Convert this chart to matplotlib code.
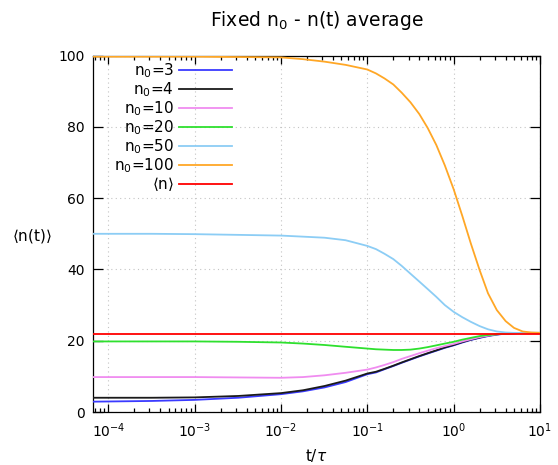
import numpy as np
import matplotlib
matplotlib.use("Agg")
import matplotlib.pyplot as plt
from matplotlib.ticker import LogLocator, FixedLocator, NullFormatter

# time grid t/tau
t = [6.6e-5, 3.2e-4, 1e-3, 3.2e-3, 1e-2, 0.018, 0.032, 0.056, 0.1, 0.126,
     0.158, 0.2, 0.25, 0.316, 0.4, 0.5, 0.63, 0.79, 1.0, 1.26, 1.58, 2.0,
     2.5, 3.16, 4.0, 5.0, 6.3, 7.9, 10.0]

n3 = [2.9, 3.1, 3.4, 4.0, 5.0, 5.8, 6.9, 8.4, 10.6, 11.1, 12.0, 12.9, 13.8,
      14.7, 15.6, 16.4, 17.2, 18.0, 18.7, 19.5, 20.2, 20.8, 21.3, 21.7,
      22.0, 22.1, 22.2, 22.2, 22.2]
n4 = [4.0, 4.0, 4.1, 4.5, 5.3, 6.1, 7.3, 8.8, 10.8, 11.3, 12.1, 13.0, 13.9,
      14.8, 15.7, 16.5, 17.3, 18.1, 18.8, 19.6, 20.3, 20.9, 21.4, 21.8,
      22.0, 22.1, 22.2, 22.2, 22.2]
n10 = [9.8, 9.8, 9.8, 9.7, 9.6, 9.8, 10.3, 11.0, 11.9, 12.5, 13.2, 14.0,
       14.9, 15.7, 16.5, 17.2, 17.9, 18.5, 19.1, 19.8, 20.4, 21.0, 21.4,
       21.8, 22.0, 22.1, 22.2, 22.2, 22.2]
n20 = [19.8, 19.8, 19.8, 19.7, 19.5, 19.2, 18.8, 18.3, 17.8, 17.6, 17.5,
       17.4, 17.4, 17.5, 17.8, 18.2, 18.7, 19.2, 19.7, 20.3, 20.8, 21.3,
       21.6, 21.8, 22.0, 22.1, 22.2, 22.2, 22.2]
n50 = [50.0, 50.0, 49.9, 49.7, 49.5, 49.2, 48.9, 48.2, 46.6, 45.7, 44.4,
       42.9, 41.0, 38.8, 36.6, 34.5, 32.3, 30.0, 28.1, 26.6, 25.3, 24.1,
       23.2, 22.6, 22.3, 22.2, 22.2, 22.2, 22.2]
n100 = [99.7, 99.7, 99.7, 99.6, 99.5, 99.0, 98.3, 97.4, 96.1, 95.0, 93.6,
        91.9, 89.6, 86.9, 83.6, 79.7, 74.9, 69.2, 62.5, 55.0, 47.3, 39.8,
        33.3, 28.6, 25.5, 23.6, 22.6, 22.3, 22.2]
n_mean = 21.9

series = [
    (r"n$_0$=3", n3, "#3a3aff"),
    (r"n$_0$=4", n4, "#1a1a1a"),
    (r"n$_0$=10", n10, "#f08cf0"),
    (r"n$_0$=20", n20, "#2ee02e"),
    (r"n$_0$=50", n50, "#8ccdf5"),
    (r"n$_0$=100", n100, "#ffa726"),
]

fig = plt.figure(figsize=(5.58, 4.65), dpi=100)
ax = fig.add_axes([93 / 558, 1 - 412 / 465, 447 / 558, 356.4 / 465])

# lines above the frame, like gnuplot draws them
for label, vals, col in series:
    ax.plot(t, vals, color=col, lw=1.3, label=label, zorder=3)
ax.axhline(n_mean, color="#ff0000", lw=1.3, label=r"$\langle$n$\rangle$", zorder=3)

ax.set_xscale("log")
ax.set_xlim(6.65e-5, 10)
ax.set_ylim(0, 100)

ax.xaxis.set_major_locator(LogLocator(base=10, numticks=12))
ax.xaxis.set_minor_locator(LogLocator(base=10, subs=np.arange(2, 10), numticks=12))
ax.xaxis.set_minor_formatter(NullFormatter())
ax.yaxis.set_major_locator(FixedLocator([0, 20, 40, 60, 80, 100]))

ax.tick_params(which="both", direction="in", top=True, right=True,
               labelsize=10, width=0.9)
ax.tick_params(axis="x", which="major", length=6, pad=7)
ax.tick_params(axis="x", which="minor", length=3)
ax.tick_params(axis="y", which="major", length=7, pad=6)
for s in ax.spines.values():
    s.set_linewidth(0.9)

ax.grid(True, which="major", color="#c4c4c4", linestyle=(0, (1, 3)), lw=0.8)

ax.set_title(r"Fixed n$_0$ - n(t) average", fontsize=13.5, pad=21)
ax.set_xlabel(r"t/$\tau$", fontsize=11)
ax.xaxis.set_label_coords(0.5, -0.121)
ax.xaxis.label.set_va("center")
ax.set_ylabel(r"$\langle$n(t)$\rangle$", fontsize=11, rotation=0)
ax.yaxis.set_label_coords(-0.136, 0.494)
ax.yaxis.label.set_va("center")

ax.legend(loc="upper right", bbox_to_anchor=(0.311, 0.984), frameon=False,
          markerfirst=False, fontsize=11, handlelength=3.5,
          handletextpad=0.3, labelspacing=0.02, borderpad=0,
          borderaxespad=0)

fig.savefig("out.png", dpi=100)
